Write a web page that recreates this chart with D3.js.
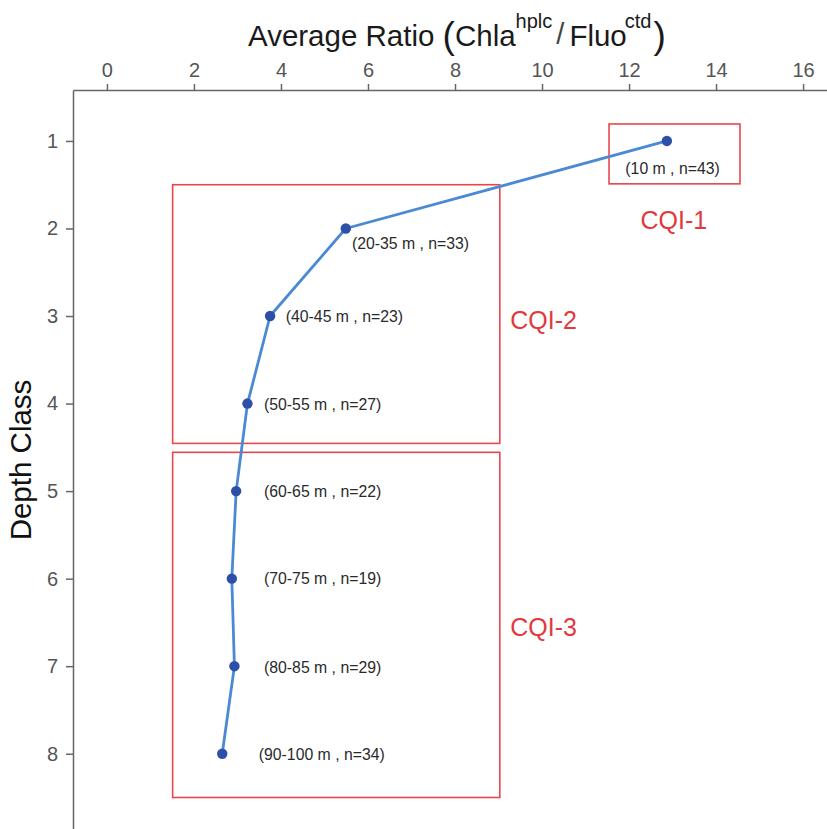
<!DOCTYPE html>
<html lang="en">
<head>
    <meta charset="UTF-8">
    <title>Average Ratio by Depth Class</title>
    <script src="https://d3js.org/d3.v7.min.js"></script>
    <style>
        body { margin: 0; background: #fff; }
        svg { display: block; font-family: "Liberation Sans", Arial, sans-serif; }
        .axis path, .axis line { stroke: #666; stroke-width: 1.5px; }
        .axis text { fill: #555; font-size: 20px; }
        .pt-label { font-size: 15.8px; fill: #2a2a2a; }
        .cqi-label { font-size: 25px; fill: #e2393c; }
        .cqi-box { fill: none; stroke: #e8474a; stroke-width: 1.6px; }
    </style>
</head>
<body>
    <div id="chart"></div>
    <script>
        // depth classes and average ratio per class
        const depthClass = [1, 2, 3, 4, 5, 6, 7, 8];
        const avgRatio = [12.87, 5.49, 3.75, 3.23, 2.97, 2.87, 2.93, 2.65];
        const pointLabels = ["(10 m , n=43)", "(20-35 m , n=33)", "(40-45 m , n=23)", "(50-55 m , n=27)",
            "(60-65 m , n=22)", "(70-75 m , n=19)", "(80-85 m , n=29)", "(90-100 m , n=34)"];
        // where each label sits, in data units
        const labelRatio = [13.0, 5.63, 4.11, 3.61, 3.61, 3.61, 3.61, 3.49];
        const labelDepth = [1.32, 2.17, 3.01, 4.01, 5.01, 6.0, 7.01, 8.01];

        const xTicks = [0, 2, 4, 6, 8, 10, 12, 14, 16];
        const yTicks = [1, 2, 3, 4, 5, 6, 7, 8];

        // quality groups: [x0, x1, y0, y1] in data units
        const cqiNames = ["CQI-1", "CQI-2", "CQI-3"];
        const cqiBoxes = [[11.54, 14.55, 0.806, 1.49], [1.51, 9.03, 1.50, 4.455], [1.51, 9.03, 4.557, 8.50]];
        const cqiLabelPos = [[13.03, 1.9], [9.27, 3.05], [9.27, 6.55]];
        const cqiAnchor = ["middle", "start", "start"];

        const width = 827, height = 829;
        const svg = d3.select("#chart").append("svg")
            .attr("width", width)
            .attr("height", height);

        const x = d3.scaleLinear().domain([-0.78, 16.55]).range([73, 827]);
        const y = d3.scaleLinear().domain([0.418, 8.86]).range([90, 829]);

        svg.append("g")
            .attr("class", "axis")
            .attr("transform", "translate(0,90)")
            .call(d3.axisTop(x).tickValues(xTicks).tickSize(6).tickPadding(7).tickSizeOuter(0));

        svg.append("g")
            .attr("class", "axis")
            .attr("transform", "translate(73,0)")
            .call(d3.axisLeft(y).tickValues(yTicks).tickSize(7).tickPadding(8).tickSizeOuter(0));

        // title: Average Ratio (Chla^hplc / Fluo^ctd)
        const title = svg.append("text")
            .attr("x", 248)
            .attr("y", 46)
            .attr("font-size", 29.5)
            .attr("fill", "#1a1a1a");
        title.append("tspan").text("Average Ratio ");
        title.append("tspan").attr("font-size", 37).attr("dy", 2).text("(");
        title.append("tspan").attr("dy", -2).text("Chla");
        title.append("tspan").attr("font-size", 20).attr("dy", -18).text("hplc");
        title.append("tspan").attr("font-size", 29).attr("fill", "#444").attr("dx", 4).attr("dy", 16).text("/");
        title.append("tspan").attr("dx", 5).attr("dy", 2).text("Fluo");
        title.append("tspan").attr("font-size", 20).attr("dx", -2).attr("dy", -18).text("ctd");
        title.append("tspan").attr("font-size", 37).attr("dx", 2).attr("dy", 20).text(")");

        svg.append("text")
            .attr("transform", "translate(31,460) rotate(-90)")
            .attr("text-anchor", "middle")
            .attr("font-size", 29.5)
            .attr("fill", "#111")
            .text("Depth Class");

        // boxes
        svg.selectAll(".cqi-box")
            .data(cqiBoxes)
            .join("rect")
            .attr("class", "cqi-box")
            .attr("x", d => x(d[0]))
            .attr("y", d => y(d[2]))
            .attr("width", d => x(d[1]) - x(d[0]))
            .attr("height", d => y(d[3]) - y(d[2]));

        svg.selectAll(".cqi-label")
            .data(cqiNames)
            .join("text")
            .attr("class", "cqi-label")
            .attr("x", (d, i) => x(cqiLabelPos[i][0]))
            .attr("y", (d, i) => y(cqiLabelPos[i][1]))
            .attr("text-anchor", (d, i) => cqiAnchor[i])
            .attr("dominant-baseline", "central")
            .text(d => d);

        const pts = depthClass.map((d, i) => ({ depth: d, ratio: avgRatio[i] }));

        const line = d3.line().x(d => x(d.ratio)).y(d => y(d.depth));
        svg.append("path")
            .datum(pts)
            .attr("fill", "none")
            .attr("stroke", "#4a8ad4")
            .attr("stroke-width", 2.8)
            .attr("stroke-linejoin", "round")
            .attr("d", line);

        svg.selectAll(".pt")
            .data(pts)
            .join("circle")
            .attr("class", "pt")
            .attr("cx", d => x(d.ratio))
            .attr("cy", d => y(d.depth))
            .attr("r", 5.2)
            .attr("fill", "#2e4fa8");

        svg.selectAll(".pt-label")
            .data(pointLabels)
            .join("text")
            .attr("class", "pt-label")
            .attr("x", (d, i) => x(labelRatio[i]))
            .attr("y", (d, i) => y(labelDepth[i]))
            .attr("text-anchor", (d, i) => i === 0 ? "middle" : "start")
            .attr("dominant-baseline", "central")
            .text(d => d);
    </script>
</body>
</html>
